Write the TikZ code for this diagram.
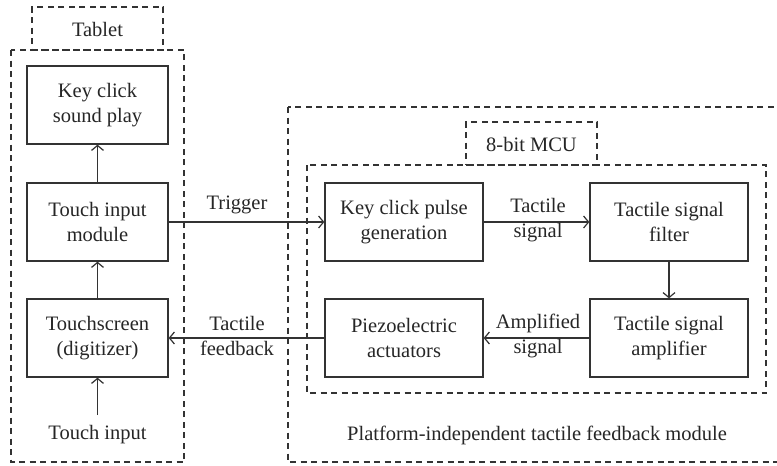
\documentclass[tikz,border=0pt]{standalone}
\usepackage{fontspec}
\setmainfont{Liberation Serif}
\usetikzlibrary{arrows.meta}
\begin{document}
\begin{tikzpicture}[x=1pt,y=-1pt,
  font=\fontsize{20.5}{25}\selectfont,
  blk/.style={draw, line width=1.3pt, align=center, inner sep=0pt, text=black!85},
  grp/.style={draw, dashed, line width=1.2pt, dash pattern=on 6pt off 4.5pt},
  lbl/.style={align=center, inner sep=0pt, text=black!85},
  arr/.style={-{Straight Barb[length=5pt,width=12pt]}, line width=1.2pt}
]
\clip (0,0) rectangle (777,466);
\useasboundingbox (0,0) rectangle (777,466);
\draw[black!80, grp] (11,50) rectangle (184,462);
\node[grp, black!80, minimum width=131pt, minimum height=43pt, inner sep=0pt] (tab) at (97.5,28.5) {};
\node[lbl] (tabt) at (97.5,29) {Tablet};

\draw[black!80, grp] (288,107) rectangle (790,462);
\draw[black!80, grp] (307,165) rectangle (766,393);
\node[grp, black!80, minimum width=131pt, minimum height=43pt, inner sep=0pt] (mcu) at (531.5,143.5) {};
\node[lbl] (mcut) at (531.5,144) {8-bit MCU};

\tikzset{bx/.style={blk, draw=black!80, minimum width=141pt, minimum height=78pt}}
\node[bx] (ks) at (97.5,105) {Key click\\sound play};
\node[bx] (ti) at (97.5,222) {Touch input\\module};
\node[bx] (ts) at (97.5,338) {Touchscreen\\(digitizer)};
\node[lbl] (tin) at (97.5,435) {Touch input};

\tikzset{bx2/.style={blk, draw=black!80, minimum width=158pt, minimum height=78pt}}
\node[bx2] (kp) at (404,222) {Key click pulse\\generation};
\node[bx2] (tf) at (669,222) {Tactile signal\\filter};
\node[bx2] (ta) at (669,338) {Tactile signal\\amplifier};
\node[bx2] (pz) at (404,338) {Piezoelectric\\actuators};
\node[lbl] (plat) at (537,435) {Platform-independent tactile feedback module};

\coordinate (tinTop) at (97.5,415);
\draw[arr, black!80] (tinTop) -- (ts.south);
\draw[arr, black!80] (ts.north) -- (ti.south);
\draw[arr, black!80] (ti.north) -- (ks.south);
\draw[arr, black!80] (ti.east) -- (kp.west);
\draw[arr, black!80] (kp.east) -- (tf.west);
\draw[arr, black!80] (tf.south) -- (ta.north);
\draw[arr, black!80] (ta.west) -- (pz.east);
\draw[arr, black!80] (pz.west) -- (ts.east);

\node[lbl] (trig) at (237,205) {Trigger};
\node[lbl] (tsig) at (538,220) {Tactile\\signal};
\node[lbl] (asig) at (538,336) {Amplified\\signal};
\node[lbl] (tfb) at (237,336) {Tactile\\feedback};
\end{tikzpicture}
\end{document}
